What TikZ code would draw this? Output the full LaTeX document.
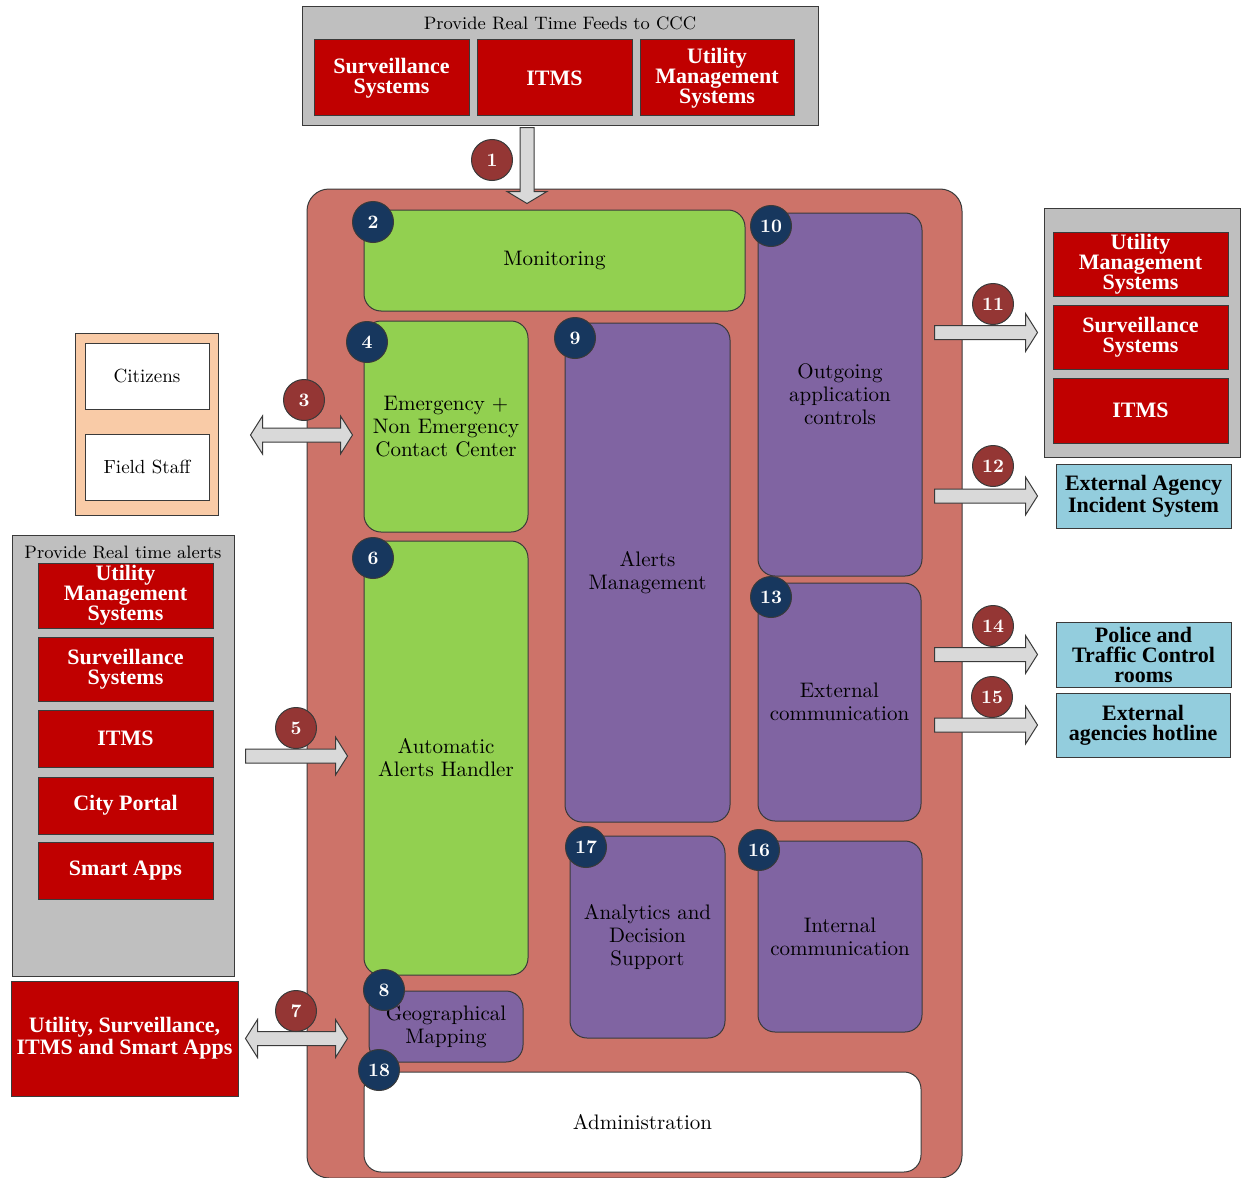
\documentclass[tikz,border=0pt]{standalone}
\usepackage{fontspec}
\usepackage{tikz}
\usetikzlibrary{calc}
\newfontfamily\boxfont{Liberation Serif}

\definecolor{cccred}{HTML}{CD7369}
\definecolor{modgreen}{HTML}{92D050}
\definecolor{modpurple}{HTML}{8064A2}
\definecolor{sysred}{HTML}{C00000}
\definecolor{panelgray}{HTML}{BFBFBF}
\definecolor{extblue}{HTML}{93CDDD}
\definecolor{peach}{HTML}{F9CBA7}
\definecolor{navy}{HTML}{17375E}
\definecolor{numred}{HTML}{943634}
\definecolor{arrowgray}{HTML}{D9D9D9}
\definecolor{edge}{HTML}{3A3A3A}

% block arrow pointing right, from #1 to #2
\newcommand{\rightblock}[2]{%
  \draw[blockarrow] ($(#1)+(0,-7)$) -- ($(#2)+(-12,-7)$) -- ($(#2)+(-12,-19)$) -- (#2)
    -- ($(#2)+(-12,19)$) -- ($(#2)+(-12,7)$) -- ($(#1)+(0,7)$) -- cycle;}
% block arrow with two heads, from #1 to #2
\newcommand{\bothblock}[2]{%
  \draw[blockarrow] (#1) -- ($(#1)+(12,-19)$) -- ($(#1)+(12,-7)$) -- ($(#2)+(-12,-7)$)
    -- ($(#2)+(-12,-19)$) -- (#2) -- ($(#2)+(-12,19)$) -- ($(#2)+(-12,7)$)
    -- ($(#1)+(12,7)$) -- ($(#1)+(12,19)$) -- cycle;}

\begin{document}
\begin{tikzpicture}[x=0.5pt, y=-0.5pt,
    every node/.style={inner sep=0pt, align=center},
    wh/.style 2 args={minimum width=#1*0.5pt, minimum height=#2*0.5pt},
    graybox/.style={draw=edge, fill=panelgray, line width=0.5pt},
    sysbox/.style={draw=edge, fill=sysred, line width=0.5pt, text=white,
      font=\boxfont\bfseries\fontsize{11}{10}\selectfont},
    extbox/.style={draw=edge, fill=extblue, line width=0.5pt,
      font=\boxfont\bfseries\fontsize{11}{10}\selectfont},
    userbox/.style={draw=edge, fill=white, line width=0.5pt, font=\fontsize{9.5}{11}\selectfont},
    paneltitle/.style={font=\fontsize{9}{10}\selectfont},
    greenmod/.style={draw=edge, fill=modgreen, line width=0.5pt, rounded corners=8.5pt,
      font=\fontsize{10.5}{11.5}\selectfont},
    purplemod/.style={greenmod, fill=modpurple},
    whitemod/.style={greenmod, fill=white},
    numblue/.style={circle, draw=edge, fill=navy, text=white, minimum size=20.5pt,
      line width=0.5pt, font=\bfseries\fontsize{9.5}{9.5}\selectfont},
    numdark/.style={numblue, fill=numred},
    blockarrow/.style={draw=edge, fill=arrowgray, line width=0.5pt}]
  \useasboundingbox (0,0) rectangle (1241,1177);

  % command and control centre
  \node[draw=edge, fill=cccred, line width=0.5pt, rounded corners=11pt, wh={655}{989}] (ccc) at (634.5,683.5) {};

  % real time feeds
  \node[graybox, wh={516}{119}] (feeds) at (560,66.5) {};
  \node[paneltitle] (feedsTitle) at (560,23) {Provide Real Time Feeds to CCC};
  \node[sysbox, wh={155}{76}] (fSurv) at (391.5,78) {Surveillance\\Systems};
  \node[sysbox, wh={155}{76}] (fItms) at (554.5,78) {ITMS};
  \node[sysbox, wh={154}{76}] (fUtil) at (717,78) {Utility\\Management\\Systems};

  % modules
  \node[greenmod, wh={381}{101}] (monitor) at (554.5,260.5) {Monitoring};
  \node[greenmod, wh={164}{211}] (contact) at (446,426.5) {Emergency +\\Non Emergency\\Contact Center};
  \node[greenmod, wh={164}{434}] (autoAlert) at (446,758) {Automatic\\Alerts Handler};
  \node[purplemod, wh={154}{71}] (geoMap) at (446,1026.5) {Geographical\\Mapping};
  \node[whitemod, wh={557}{100}] (admin) at (642.5,1122) {Administration};
  \node[purplemod, wh={165}{499}] (alertMgmt) at (647.5,572.5) {Alerts\\Management};
  \node[purplemod, wh={164}{363}] (outgoing) at (840,394.5) {Outgoing\\application\\controls};
  \node[purplemod, wh={163}{238}] (extComm) at (839.5,702) {External\\communication};
  \node[purplemod, wh={155}{202}] (analytics) at (647.5,937) {Analytics and\\Decision\\Support};
  \node[purplemod, wh={164}{191}] (intComm) at (840,936.5) {Internal\\communication};

  % citizens and field staff
  \node[draw=edge, fill=peach, line width=0.5pt, wh={143}{182}] (users) at (146.5,424) {};
  \node[userbox, wh={124}{66}] (citizens) at (147,376) {Citizens};
  \node[userbox, wh={124}{66}] (staff) at (147,467) {Field Staff};

  % real time alerts
  \node[graybox, wh={222}{441}] (alertsIn) at (123,755.5) {};
  \node[paneltitle] (alertsTitle) at (123,552) {Provide Real time alerts};
  \node[sysbox, wh={175}{65}] (aUtil) at (125.5,595.5) {Utility\\Management\\Systems};
  \node[sysbox, wh={175}{64}] (aSurv) at (125.5,669) {Surveillance\\Systems};
  \node[sysbox, wh={175}{57}] (aItms) at (125.5,738.5) {ITMS};
  \node[sysbox, wh={175}{57}] (aPortal) at (125.5,805.5) {City Portal};
  \node[sysbox, wh={175}{57}] (aApps) at (125.5,870.5) {Smart Apps};
  \node[sysbox, wh={227}{115}] (mapSrc) at (124.5,1038.5) {Utility, Surveillance,\\ITMS and Smart Apps};

  % outgoing targets
  \node[graybox, wh={196}{249}] (sysOut) at (1142,332.5) {};
  \node[sysbox, wh={175}{64}] (oUtil) at (1140.5,264) {Utility\\Management\\Systems};
  \node[sysbox, wh={175}{64}] (oSurv) at (1140.5,337) {Surveillance\\Systems};
  \node[sysbox, wh={175}{65}] (oItms) at (1140.5,410.5) {ITMS};
  \node[extbox, wh={175}{64}] (extIncident) at (1143.5,496) {External Agency\\Incident System};
  \node[extbox, wh={175}{65}] (police) at (1143.5,654.5) {Police and\\Traffic Control\\rooms};
  \node[extbox, wh={174}{64}] (hotline) at (1143,725) {External\\agencies hotline};

  % arrow ends
  \coordinate (a1s) at ($(feeds.south)+(-33,1)$);
  \coordinate (a1e) at ($(monitor.north)+(-27.5,-6)$);
  \coordinate (a3e) at ($(contact.west)+(-11,8.5)$);
  \coordinate (a3s) at ($(users.east |- a3e)+(32,0)$);
  \coordinate (a5e) at ($(autoAlert.west)+(-16,-2)$);
  \coordinate (a5s) at ($(alertsIn.east |- a5e)+(11,0)$);
  \coordinate (a7s) at ($(mapSrc.east)+(7,0)$);
  \coordinate (a7e) at ($(ccc.west |- a7s)+(41,0)$);
  \coordinate (a11e) at ($(sysOut.west)+(-6,0)$);
  \coordinate (a11s) at ($(ccc.east |- a11e)+(-28,0)$);
  \coordinate (a12e) at ($(extIncident.west)+(-18,0)$);
  \coordinate (a12s) at ($(ccc.east |- a12e)+(-28,0)$);
  \coordinate (a14e) at ($(police.west)+(-18,0)$);
  \coordinate (a14s) at ($(ccc.east |- a14e)+(-28,0)$);
  \coordinate (a15e) at ($(hotline.west)+(-18,0)$);
  \coordinate (a15s) at ($(ccc.east |- a15e)+(-28,0)$);

  % arrows
  \draw[blockarrow] ($(a1s)+(-7,0)$) -- ($(a1e)+(-7,-12)$) -- ($(a1e)+(-20,-12)$) -- (a1e)
    -- ($(a1e)+(20,-12)$) -- ($(a1e)+(7,-12)$) -- ($(a1s)+(7,0)$) -- cycle;
  \bothblock{a3s}{a3e}
  \rightblock{a5s}{a5e}
  \bothblock{a7s}{a7e}
  \rightblock{a11s}{a11e}
  \rightblock{a12s}{a12e}
  \rightblock{a14s}{a14e}
  \rightblock{a15s}{a15e}

  % flow numbers
  \node[numdark] (n1) at (492,160) {1};
  \node[numdark] (n3) at (304,400) {3};
  \node[numdark] (n5) at (296,728) {5};
  \node[numdark] (n7) at (296,1011) {7};
  \node[numdark] (n11) at (993,304) {11};
  \node[numdark] (n12) at (993,466) {12};
  \node[numdark] (n14) at (993,626) {14};
  \node[numdark] (n15) at (992,697) {15};

  % module numbers
  \node[numblue] (n2) at (373,222) {2};
  \node[numblue] (n4) at (367,342) {4};
  \node[numblue] (n6) at (373,558) {6};
  \node[numblue] (n8) at (384,990) {8};
  \node[numblue] (n9) at (575,338) {9};
  \node[numblue] (n10) at (771,226) {10};
  \node[numblue] (n13) at (771,597) {13};
  \node[numblue] (n16) at (759,850) {16};
  \node[numblue] (n17) at (586,847) {17};
  \node[numblue] (n18) at (379,1070) {18};
\end{tikzpicture}
\end{document}
